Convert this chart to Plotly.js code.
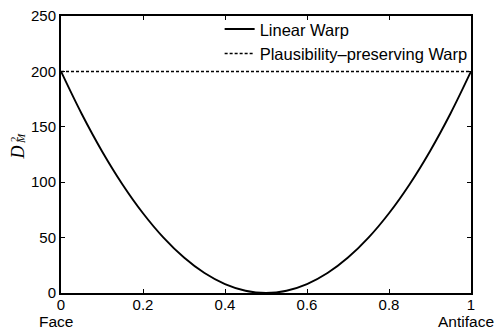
<!DOCTYPE html>
<html>
<head>
<meta charset="utf-8">
<script src="https://cdn.plot.ly/plotly-3.0.1.min.js"></script>
<style>html,body{margin:0;padding:0;background:#fff;}#chart{width:503px;height:330px;}</style>
</head>
<body>
<div id="chart"></div>
<script>
// Warp position from Face (0) to Antiface (1)
const warpPosition = [0, 0.05, 0.1, 0.15, 0.2, 0.25, 0.3, 0.35, 0.4, 0.45, 0.5, 0.55, 0.6, 0.65, 0.7, 0.75, 0.8, 0.85, 0.9, 0.95, 1];
// Mahalanobis distance D_M^2 along the linear warp
const linearWarp = [200, 162, 128, 98, 72, 50, 32, 18, 8, 2, 0, 2, 8, 18, 32, 50, 72, 98, 128, 162, 200];
// Plausibility-preserving warp stays at the same distance
const plausibilityPos = [0, 1];
const plausibilityWarp = [200, 200];
const seriesNames = ['Linear Warp', 'Plausibility\u2013preserving Warp'];
const xTicks = [0, 0.2, 0.4, 0.6, 0.8, 1];
const xTickText = ['0', '0.2', '0.4', '0.6', '0.8', '1'];
const yTicks = [0, 50, 100, 150, 200, 250];
const endLabels = ['Face', 'Antiface'];

const font = 'Liberation Sans, Arial, Helvetica, sans-serif';

const traces = [
  {x: warpPosition, y: linearWarp, name: seriesNames[0], mode: 'lines',
   line: {color: '#000', width: 1.9, shape: 'spline'}},
  {x: plausibilityPos, y: plausibilityWarp, name: seriesNames[1], mode: 'lines',
   line: {color: '#000', width: 1.5, dash: '3px,2px'}}
];

const axisCommon = {
  showline: true, linecolor: '#000', linewidth: 2, mirror: 'ticks',
  ticks: 'inside', ticklen: 4, tickwidth: 1, tickcolor: '#000',
  showgrid: false, zeroline: false,
  tickfont: {family: font, size: 15, color: '#000'}
};

const layout = {
  width: 503, height: 330,
  margin: {l: 61, r: 32, t: 13, b: 37, pad: 0},
  paper_bgcolor: '#fff', plot_bgcolor: '#fff',
  xaxis: Object.assign({}, axisCommon, {range: [0, 1], tickvals: xTicks, ticktext: xTickText, ticklabelstandoff: -3}),
  yaxis: Object.assign({}, axisCommon, {range: [0, 250], tickvals: yTicks}),
  showlegend: true,
  legend: {x: 1.004, xanchor: 'right', y: 1.015, yanchor: 'top', bgcolor: 'rgba(0,0,0,0)',
           borderwidth: 0, itemwidth: 30, tracegroupgap: 0,
           font: {family: font, size: 16.5, color: '#000'}},
  annotations: [
    {x: xTicks[0], y: 0, xref: 'x', yref: 'paper', text: endLabels[0], showarrow: false,
     xanchor: 'center', yanchor: 'middle', xshift: -5, yshift: -28, borderpad: 0,
     font: {family: font, size: 15.5, color: '#000'}},
    {x: xTicks[xTicks.length - 1], y: 0, xref: 'x', yref: 'paper', text: endLabels[1], showarrow: false,
     xanchor: 'center', yanchor: 'middle', xshift: -5, yshift: -28, borderpad: 0,
     font: {family: font, size: 15.5, color: '#000'}},
    {x: 0, y: 0.507, xref: 'paper', yref: 'paper', text: '<i>D</i>', showarrow: false, textangle: -90,
     xanchor: 'center', yanchor: 'middle', xshift: -43, font: {family: 'Liberation Serif, serif', size: 18, color: '#000'}},
    {x: 0, y: 0.556, xref: 'paper', yref: 'paper', text: '2', showarrow: false, textangle: -90,
     xanchor: 'center', yanchor: 'middle', xshift: -47, font: {family: 'Liberation Serif, serif', size: 11, color: '#000'}},
    {x: 0, y: 0.556, xref: 'paper', yref: 'paper', text: '<i>M</i>', showarrow: false, textangle: -90,
     xanchor: 'center', yanchor: 'middle', xshift: -40, font: {family: 'Liberation Serif, serif', size: 11, color: '#000'}}
  ]
};

Plotly.newPlot('chart', traces, layout, {displayModeBar: false, staticPlot: true});
</script>
</body>
</html>
